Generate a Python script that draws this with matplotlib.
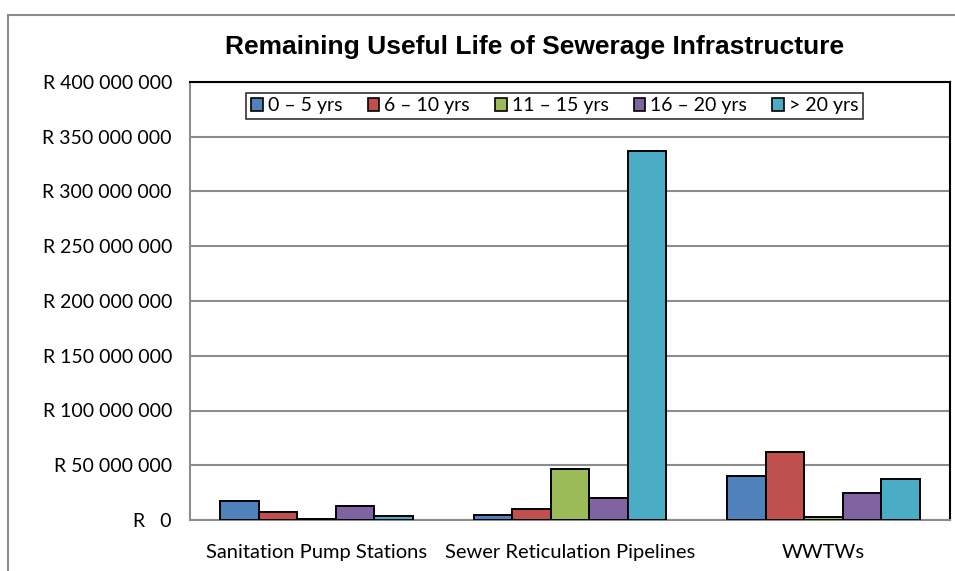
import numpy as np
import matplotlib
matplotlib.use("Agg")
import matplotlib.pyplot as plt
from matplotlib.patches import Rectangle, Patch

# data (Rand)
categories = ["Sanitation Pump Stations", "Sewer Reticulation Pipelines", "WWTWs"]
series = ["0 \u2013 5 yrs", "6 \u2013 10 yrs", "11 \u2013 15 yrs", "16 \u2013 20 yrs", "> 20 yrs"]
yrs_0_5 = [17.0e6, 4.5e6, 40.0e6]
yrs_6_10 = [7.5e6, 10.0e6, 62.0e6]
yrs_11_15 = [0.8e6, 47.0e6, 2.5e6]
yrs_16_20 = [13.0e6, 20.0e6, 25.0e6]
yrs_20_plus = [3.5e6, 337.0e6, 37.0e6]
values = [yrs_0_5, yrs_6_10, yrs_11_15, yrs_16_20, yrs_20_plus]
colors = ["#4F81BD", "#C0504D", "#9BBB59", "#8064A2", "#4BACC6"]
yticks = np.arange(0, 400e6 + 1, 50e6)

plt.rcParams['font.family'] = ['Lato', 'DejaVu Sans']

fig = plt.figure(figsize=(9.55, 5.71), dpi=100)
fig.patches.append(Rectangle((8/955, -0.2), 1.2, 0.2 + 1 - 15/571, transform=fig.transFigure,
                             fill=False, edgecolor="#8c8c8c", lw=1.5))

ax = fig.add_axes([190/955, 1 - 520/571, 760/955, 438/571])
x = np.arange(len(categories))
bw = 0.152
for i, (vals, c) in enumerate(zip(values, colors)):
    ax.bar(x + (i - 2) * bw, vals, bw, color=c, edgecolor="black", lw=1.4, zorder=3)

ax.set_xlim(-0.5, 2.5)
ax.set_ylim(0, 400e6)
ax.set_yticks(yticks)
ax.set_yticklabels(["R   0"] + ["R " + f"{int(v):,}".replace(",", " ") for v in yticks[1:]])
ax.set_xticks(x)
ax.set_xticklabels(categories)
ax.tick_params(axis="both", length=0, colors="#000000")
ax.tick_params(axis="y", pad=13, labelsize=14)
ax.tick_params(axis="x", pad=17, labelsize=14.5)
ax.yaxis.grid(True, color="#8c8c8c", lw=1.5, zorder=0)
ax.set_axisbelow(True)
for s in ["left", "bottom"]:
    ax.spines[s].set_color("#8c8c8c")
    ax.spines[s].set_linewidth(1.5)
for s in ["top", "right"]:
    ax.spines[s].set_color("black")
    ax.spines[s].set_linewidth(1.5)

handles = [Patch(facecolor=c, edgecolor="black", lw=1.2) for c in colors]
leg = ax.legend(handles, series, loc="upper center", bbox_to_anchor=(0.48, 0.998), ncol=5,
                fontsize=14, frameon=True, fancybox=False, handlelength=0.6, handleheight=0.6,
                handletextpad=0.25, columnspacing=1.3, borderpad=0.25)
leg.get_frame().set_edgecolor("black")
leg.get_frame().set_linewidth(1.2)

fig.text(0.56, 1 - 47/571, "Remaining Useful Life of Sewerage Infrastructure",
         ha="center", va="center", fontsize=19, fontweight="bold",
         family=["Liberation Sans", "DejaVu Sans"])

fig.savefig("out.png", dpi=100)
